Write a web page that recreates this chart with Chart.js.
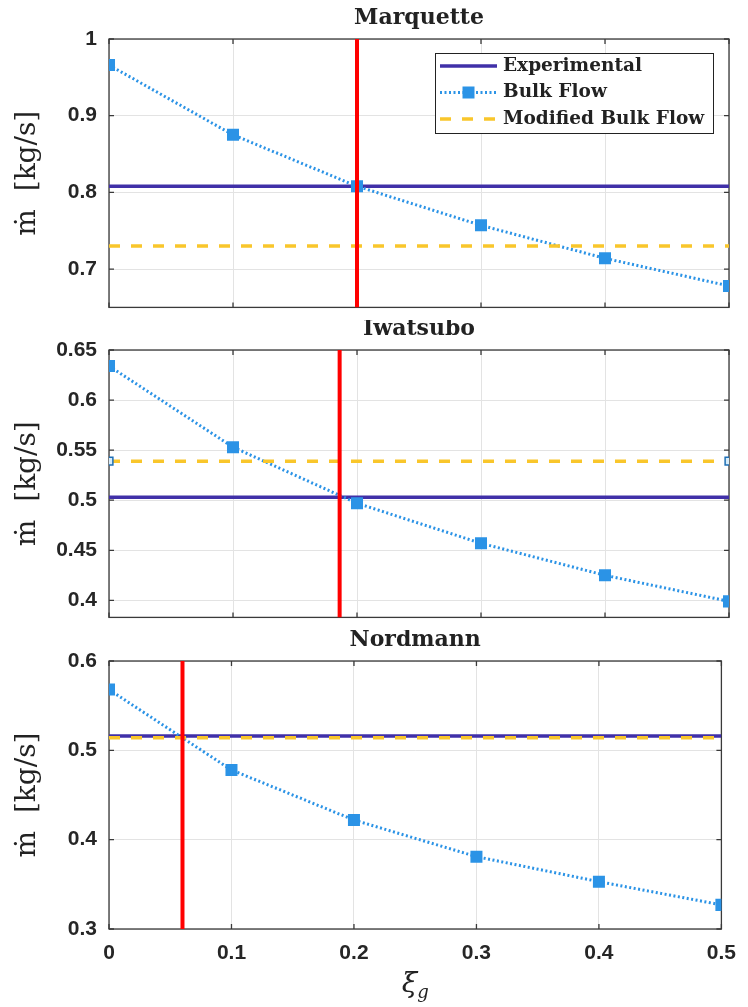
<!DOCTYPE html>
<html>
<head>
<meta charset="utf-8">
<script src="https://cdn.jsdelivr.net/npm/chart.js@4.4.1/dist/chart.umd.min.js"></script>
<style>
  body { margin: 0; background: #fff; width: 748px; height: 1007px; position: relative; overflow: hidden; }
  .panel { position: absolute; left: 0; width: 748px; }
</style>
</head>
<body>
<div class="panel" style="top:0px;height:332px"><canvas id="g1" width="748" height="332"></canvas></div>
<div class="panel" style="top:320px;height:322px"><canvas id="g2" width="748" height="322"></canvas></div>
<div class="panel" style="top:630px;height:377px"><canvas id="g3" width="748" height="377"></canvas></div>
<script>
// dados
const xi = [0, 0.1, 0.2, 0.3, 0.4, 0.5];
const xTicks = [0, 0.1, 0.2, 0.3, 0.4, 0.5];

const marqBulk = [0.966, 0.875, 0.808, 0.757, 0.714, 0.678];
const marqExp = 0.808;
const marqMod = 0.730;
const marqRed = 0.2;
const marqTicks = [0.7, 0.8, 0.9, 1.0];

const iwaBulk = [0.634, 0.553, 0.497, 0.457, 0.425, 0.399];
const iwaExp = 0.503;
const iwaMod = 0.539;
const iwaRed = 0.186;
const iwaTicks = [0.4, 0.45, 0.5, 0.55, 0.6, 0.65];

const nordBulk = [0.568, 0.478, 0.422, 0.381, 0.353, 0.327];
const nordExp = 0.516;
const nordMod = 0.514;
const nordRed = 0.06;
const nordTicks = [0.3, 0.4, 0.5, 0.6];

const COR_EXP = '#4030a8';
const COR_BULK = '#2b93e6';
const COR_MOD = '#f9c62b';
const COR_RED = '#ff0000';

const fmt = v => String(Math.round(v * 100) / 100);

// moldura, marcas internas, titulo, legenda
const molduraPlugin = {
  id: 'moldura',
  beforeDatasetsDraw(chart) {
    const { ctx, chartArea: a, scales } = chart;
    ctx.save();
    ctx.strokeStyle = '#3a3a3a';
    ctx.lineWidth = 1.3;
    ctx.beginPath();
    scales.x.ticks.forEach(t => {
      const px = scales.x.getPixelForValue(t.value);
      ctx.moveTo(px, a.bottom); ctx.lineTo(px, a.bottom - 5);
      ctx.moveTo(px, a.top); ctx.lineTo(px, a.top + 5);
    });
    scales.y.ticks.forEach(t => {
      const py = scales.y.getPixelForValue(t.value);
      ctx.moveTo(a.left, py); ctx.lineTo(a.left + 5, py);
      ctx.moveTo(a.right, py); ctx.lineTo(a.right - 5, py);
    });
    ctx.stroke();
    ctx.strokeRect(a.left, a.top, a.right - a.left, a.bottom - a.top);
    ctx.restore();
  },
  afterDraw(chart, args, opts) {
    const { ctx, chartArea: a } = chart;
    ctx.save();
    ctx.fillStyle = '#222';
    ctx.font = 'bold 22px "DejaVu Serif"';
    ctx.textAlign = 'center';
    ctx.textBaseline = 'middle';
    ctx.fillText(opts.titulo, (a.left + a.right) / 2, a.top - 21);

    if (opts.xTitulo) {
      const cx = (a.left + a.right) / 2;
      const cy = a.bottom + 56;
      ctx.font = 'italic 28px "DejaVu Serif"';
      ctx.textAlign = 'right';
      ctx.fillText('ξ', cx + 2, cy);
      ctx.font = 'italic 18px "DejaVu Serif"';
      ctx.textAlign = 'left';
      ctx.fillText('g', cx + 2, cy + 8);
    }

    if (opts.legenda) {
      const w = 278, h = 80;
      const bx = a.right - 16 - w, by = a.top + 14;
      ctx.fillStyle = '#fff';
      ctx.fillRect(bx, by, w, h);
      ctx.strokeStyle = '#222';
      ctx.lineWidth = 1;
      ctx.strokeRect(bx + 0.5, by + 0.5, w, h);
      const itens = chart.data.datasets.filter(d => d.noLegenda !== true)
        .sort((p, q) => p.legOrdem - q.legOrdem);
      itens.forEach((d, i) => {
        const y = by + 13 + i * 26.5;
        ctx.strokeStyle = d.borderColor;
        ctx.lineWidth = d.borderWidth;
        ctx.setLineDash(d.borderDash || []);
        ctx.beginPath();
        ctx.moveTo(bx + 5, y); ctx.lineTo(bx + 62, y);
        ctx.stroke();
        ctx.setLineDash([]);
        if (d.legMarca) {
          ctx.fillStyle = d.pointBackgroundColor;
          ctx.fillRect(bx + 33.5 - 6, y - 6, 12, 12);
        }
        ctx.fillStyle = '#222';
        ctx.font = 'bold 18.5px "DejaVu Serif"';
        ctx.textAlign = 'left';
        ctx.textBaseline = 'middle';
        ctx.fillText(d.label, bx + 68, y);
      });
    }
    ctx.restore();
  }
};

function grafico(id, cfg) {
  const ctx = document.getElementById(id).getContext('2d');
  const modRaio = xi.map((v, i) => (cfg.modMarcas && (i === 0 || i === xi.length - 1)) ? 5.5 : 0);
  return new Chart(ctx, {
    type: 'line',
    data: {
      datasets: [
        {
          label: 'red', noLegenda: true,
          data: [{ x: cfg.red, y: cfg.yMin }, { x: cfg.red, y: cfg.yMax }],
          borderColor: COR_RED, borderWidth: 4, pointRadius: 0
        },
        {
          label: 'Modified Bulk Flow', legOrdem: 3,
          data: xi.map(x => ({ x, y: cfg.mod })),
          borderColor: COR_MOD, borderWidth: 3.5, borderDash: [11, 11],
          pointStyle: 'rect', pointRadius: modRaio,
          pointBackgroundColor: '#d6ecfa', pointBorderColor: '#1f6fb5', pointBorderWidth: 1.5
        },
        {
          label: 'Bulk Flow', legOrdem: 2, legMarca: true,
          data: xi.map((x, i) => ({ x, y: cfg.bulk[i] })),
          borderColor: COR_BULK, borderWidth: 3, borderDash: [2, 2.5],
          pointStyle: 'rect', pointRadius: 8.5,
          pointBackgroundColor: COR_BULK, pointBorderColor: COR_BULK, pointBorderWidth: 0
        },
        {
          label: 'Experimental', legOrdem: 1,
          data: [{ x: 0, y: cfg.exp }, { x: 0.5, y: cfg.exp }],
          borderColor: COR_EXP, borderWidth: 3.5, pointRadius: 0
        }
      ]
    },
    options: {
      responsive: false,
      animation: false,
      layout: { padding: { top: cfg.topo, right: 19, left: 0, bottom: 0 } },
      plugins: {
        legend: { display: false },
        tooltip: { enabled: false },
        moldura: { titulo: cfg.titulo, legenda: cfg.legenda, xTitulo: cfg.mostraX }
      },
      scales: {
        x: {
          type: 'linear', min: 0, max: 0.5,
          afterBuildTicks: s => { s.ticks = xTicks.map(v => ({ value: v })); },
          afterFit: s => { s.height = cfg.xAltura; },
          grid: { color: '#e3e3e3', drawTicks: false },
          border: { display: false },
          ticks: {
            display: cfg.mostraX, padding: 12, color: '#262626',
            font: { family: '"Liberation Sans"', weight: 'bold', size: 21 },
            callback: v => fmt(v)
          }
        },
        y: {
          type: 'linear', min: cfg.yMin, max: cfg.yMax,
          afterBuildTicks: s => { s.ticks = cfg.yTicks.map(v => ({ value: v })); },
          afterFit: s => { s.width = 109; },
          grid: { color: '#e3e3e3', drawTicks: false },
          border: { display: false },
          ticks: {
            padding: 12, color: '#262626',
            font: { family: '"Liberation Sans"', weight: 'bold', size: 21 },
            callback: v => fmt(v)
          },
          title: {
            display: true, text: 'ṁ  [kg/s]', color: '#222',
            font: { family: '"DejaVu Serif"', size: 28 },
            padding: { top: 11, bottom: 0 }
          }
        }
      }
    },
    plugins: [molduraPlugin]
  });
}

grafico('g1', {
  titulo: 'Marquette', bulk: marqBulk, exp: marqExp, mod: marqMod, red: marqRed,
  yMin: 0.65, yMax: 1.0, yTicks: marqTicks, topo: 39, xAltura: 1,
  mostraX: false, legenda: true, modMarcas: false
});

grafico('g2', {
  titulo: 'Iwatsubo', bulk: iwaBulk, exp: iwaExp, mod: iwaMod, red: iwaRed,
  yMin: 0.383, yMax: 0.65, yTicks: iwaTicks, topo: 30, xAltura: 1,
  mostraX: false, legenda: false, modMarcas: true
});

grafico('g3', {
  titulo: 'Nordmann', bulk: nordBulk, exp: nordExp, mod: nordMod, red: nordRed,
  yMin: 0.3, yMax: 0.6, yTicks: nordTicks, topo: 31, xAltura: 78,
  mostraX: true, legenda: false, modMarcas: false
});
</script>
</body>
</html>
